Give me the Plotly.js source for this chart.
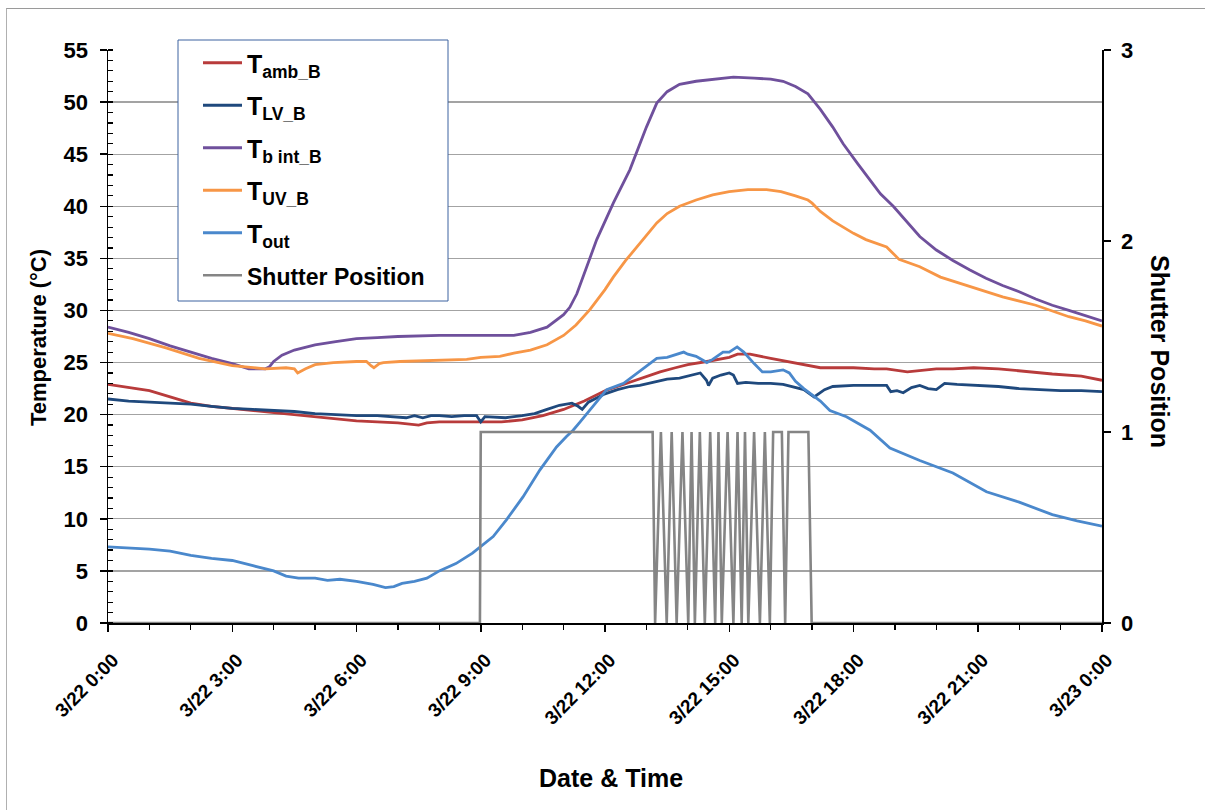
<!DOCTYPE html>
<html>
<head>
<meta charset="utf-8">
<script src="https://cdn.plot.ly/plotly-3.0.1.min.js"></script>
<style>
  html, body { margin: 0; padding: 0; background: #fff; }
  #chart { width: 1205px; height: 810px; position: relative; }
  #frame { position: absolute; left: 6px; top: 8px; width: 1199px; height: 802px;
           border-top: 1px solid #9a9a9a; border-left: 1px solid #b0b0b0; pointer-events: none; }
</style>
</head>
<body>
<div id="chart"></div>
<div id="frame"></div>
<script>
// ---- Data (time in hours after 3/22 0:00) ----
const ambHours = [0,0.5,1,1.5,2,2.5,3,3.5,4,4.5,5,5.5,6,6.5,7,7.5,7.7,8,8.5,9,9.5,10,10.5,11,11.5,12,12.5,12.84,13.33,13.7,14,14.46,15,15.2,15.5,16,16.5,16.8,17.2,17.67,18,18.5,18.8,19.3,19.6,20,20.4,20.9,21.5,22,22.5,22.8,23.5,24];
const ambVals  = [22.9,22.6,22.3,21.7,21.1,20.8,20.6,20.4,20.2,20.0,19.8,19.6,19.4,19.3,19.2,19.0,19.2,19.3,19.3,19.3,19.3,19.5,19.9,20.5,21.3,22.3,23.0,23.4,24.1,24.5,24.8,25.1,25.5,25.8,25.8,25.4,25.0,24.8,24.5,24.5,24.5,24.4,24.4,24.1,24.2,24.4,24.4,24.5,24.4,24.2,24.0,23.9,23.7,23.3];

const lvHours = [0,0.5,1,1.5,2,2.5,3,3.5,4,4.5,5,5.5,6,6.5,7,7.2,7.4,7.6,7.8,8,8.3,8.6,8.9,9.0,9.1,9.4,9.6,10,10.3,10.6,10.9,11.2,11.35,11.45,11.6,11.8,12,12.3,12.6,12.84,13.2,13.5,13.8,14.1,14.3,14.45,14.5,14.6,14.8,15.0,15.1,15.2,15.4,15.7,16,16.3,16.6,16.8,17.05,17.3,17.5,18,18.5,18.8,18.9,19.05,19.2,19.4,19.6,19.8,20.0,20.2,20.5,21,21.5,22,22.5,23,23.5,24];
const lvVals  = [21.5,21.3,21.2,21.1,21.0,20.8,20.6,20.5,20.4,20.3,20.1,20.0,19.9,19.9,19.8,19.7,19.9,19.7,19.9,19.9,19.8,19.9,19.9,19.3,19.8,19.7,19.7,19.9,20.1,20.5,20.9,21.1,20.8,20.5,21.2,21.6,22.0,22.4,22.7,22.8,23.1,23.4,23.5,23.8,24.0,23.3,22.8,23.5,23.8,24.0,23.8,23.0,23.1,23.0,23.0,22.9,22.6,22.4,21.7,22.4,22.7,22.8,22.8,22.8,22.2,22.3,22.1,22.6,22.8,22.5,22.4,23.0,22.9,22.8,22.7,22.5,22.4,22.3,22.3,22.2];

const bintHours = [0,0.5,1,1.5,2,2.5,3,3.4,3.8,3.9,4.0,4.2,4.5,5,5.5,6,6.5,7,8,9,9.8,10.2,10.6,11.0,11.15,11.32,11.55,11.8,12.2,12.6,13.0,13.25,13.5,13.8,14.2,14.6,15.1,15.6,16.0,16.3,16.6,16.9,17.2,17.5,17.75,18.1,18.4,18.65,18.96,19.3,19.6,20.0,20.4,20.8,21.2,21.6,22.0,22.4,22.8,23.2,23.6,24];
const bintVals  = [28.4,27.9,27.3,26.6,26.0,25.4,24.9,24.4,24.4,24.6,25.1,25.7,26.2,26.7,27.0,27.3,27.4,27.5,27.6,27.6,27.6,27.9,28.4,29.6,30.3,31.6,34.0,36.8,40.3,43.5,47.6,49.9,51.0,51.7,52.0,52.2,52.4,52.3,52.2,52.0,51.5,50.8,49.3,47.6,46.0,44.1,42.5,41.2,40.0,38.5,37.1,35.8,34.8,33.9,33.1,32.4,31.8,31.1,30.5,30.0,29.5,29.0];

const uvHours = [0,0.6,1.4,2.2,3.0,3.8,4.3,4.5,4.58,4.7,4.77,5.0,5.44,6.0,6.24,6.35,6.42,6.55,6.65,7.05,7.85,8.66,9.0,9.46,9.8,10.2,10.6,11.0,11.3,11.64,12.0,12.2,12.5,12.77,13.0,13.25,13.5,13.8,14.2,14.6,15.0,15.45,15.9,16.25,16.6,16.9,17.0,17.2,17.5,17.75,18.0,18.3,18.8,19.1,19.6,20.1,20.8,21.6,22.4,23.2,23.6,24];
const uvVals  = [27.8,27.3,26.4,25.4,24.7,24.4,24.5,24.4,24.0,24.3,24.4,24.8,25.0,25.1,25.1,24.7,24.5,24.9,25.0,25.1,25.2,25.3,25.5,25.6,25.9,26.2,26.7,27.6,28.6,30.1,32.0,33.2,34.8,36.1,37.3,38.4,39.3,40.0,40.6,41.1,41.4,41.6,41.6,41.4,41.0,40.6,40.3,39.5,38.6,38.0,37.4,36.8,36.1,34.9,34.2,33.2,32.3,31.3,30.5,29.4,29.0,28.5];

const outHours = [0,0.5,1,1.5,2,2.5,3,3.5,4,4.3,4.6,5,5.3,5.6,6,6.4,6.7,6.9,7.1,7.4,7.7,8.0,8.4,8.8,8.96,9.3,9.62,10.02,10.43,10.83,11.07,11.23,11.4,11.63,12.04,12.45,12.84,13.25,13.5,13.9,14.0,14.2,14.46,14.6,14.85,15.0,15.19,15.35,15.6,15.8,16.0,16.3,16.45,16.6,16.8,17.05,17.2,17.43,17.83,18.4,18.88,19.6,20.4,21.21,22.0,22.8,23.4,24];
const outVals  = [7.3,7.2,7.1,6.9,6.5,6.2,6.0,5.5,5.0,4.5,4.3,4.3,4.1,4.2,4.0,3.7,3.4,3.5,3.8,4.0,4.3,5.0,5.7,6.7,7.2,8.3,9.9,12.1,14.7,16.9,17.9,18.5,19.3,20.4,22.4,23.0,24.2,25.4,25.5,26.0,25.8,25.6,25.0,25.3,26.0,26.0,26.5,26.0,24.9,24.1,24.1,24.3,24.0,23.2,22.5,21.7,21.3,20.4,19.8,18.5,16.8,15.6,14.4,12.6,11.6,10.4,9.8,9.3];

const shutterHours = [0,8.98,9.0,13.15,13.21,13.35,13.49,13.61,13.73,13.87,14.01,14.09,14.17,14.29,14.41,14.54,14.66,14.74,14.82,14.96,15.10,15.20,15.30,15.38,15.46,15.60,15.74,15.86,15.98,16.06,16.27,16.35,16.43,16.91,16.99,24];
const shutterVals  = [0,0,1,1,0,1,0,1,0,1,0,1,0,1,0,1,0,1,0,1,0,1,0,1,0,1,0,1,0,1,1,0,1,1,0,0];

const seriesNames = ['T<sub>amb_B</sub>','T<sub>LV_B</sub>','T<sub>b int_B</sub>','T<sub>UV_B</sub>','T<sub>out</sub>','<span style="font-size:23px">Shutter Position</span>'];
const seriesColors = ['#b83b3b','#1f497d','#6f509c','#f79646','#4a88cc','#858585'];

// ---- helpers ----
function toDate(h) {
  const secs = Math.round(h * 3600);
  const day = 22 + Math.floor(secs / 86400);
  const s = secs % 86400;
  const p = n => String(n).padStart(2, '0');
  return '2013-03-' + p(day) + ' ' + p(Math.floor(s / 3600)) + ':' + p(Math.floor((s % 3600) / 60)) + ':' + p(s % 60);
}

const tempSets = [[ambHours, ambVals],[lvHours, lvVals],[bintHours, bintVals],[uvHours, uvVals],[outHours, outVals]];
const traces = tempSets.map((d, i) => ({
  type: 'scatter', mode: 'lines',
  x: d[0].map(toDate), y: d[1],
  name: seriesNames[i], legendgroup: 'g' + i,
  line: { color: seriesColors[i], width: 2.8 },
  yaxis: 'y'
}));
traces.push({
  type: 'scatter', mode: 'lines',
  x: shutterHours.map(toDate), y: shutterVals,
  name: seriesNames[5], legendgroup: 'g5',
  line: { color: seriesColors[5], width: 2.6 },
  yaxis: 'y2'
});

const FONT = 'Liberation Sans, Arial, Helvetica, sans-serif';
const W = 994, H = 573, L = 108, T = 50;
const px = x => (x - L) / W;
const py = y => (T + H - y) / H;

const layout = {
  width: 1205, height: 810,
  margin: { l: 108, r: 103, t: 50, b: 187 },
  paper_bgcolor: '#ffffff', plot_bgcolor: '#ffffff',
  font: { family: FONT, color: '#000', weight: 'bold' },
  showlegend: true,
  legend: {
    x: px(198), y: py(40), xanchor: 'left', yanchor: 'top',
    bgcolor: 'rgba(0,0,0,0)', borderwidth: 0,
    font: { family: FONT, size: 25, color: '#000', weight: 'bold' },
    itemwidth: 39,
    traceorder: 'grouped', tracegroupgap: 7
  },
  xaxis: {
    type: 'date',
    range: [toDate(0), toDate(24)],
    tick0: toDate(0), dtick: 3 * 3600000,
    tickformat: '%-m/%-d %-H:%M',
    tickangle: -45,
    tickfont: { family: FONT, size: 19, color: '#000', weight: 'bold' },
    ticks: 'outside', ticklen: 7, tickwidth: 1.5, tickcolor: '#000',
    ticklabelstandoff: 10, ticklabelshift: 5,
    minor: { dtick: 3600000, tick0: toDate(0), ticks: 'outside', ticklen: 5, tickwidth: 1.2, tickcolor: '#000', showgrid: false },
    showline: true, linecolor: '#000', linewidth: 1.5,
    showgrid: false, zeroline: false, fixedrange: true
  },
  yaxis: {
    range: [0, 55], tick0: 0, dtick: 5,
    tickfont: { family: FONT, size: 22, color: '#000', weight: 'bold' },
    ticks: 'outside', ticklen: 7, tickwidth: 1.5, tickcolor: '#000',
    ticklabelstandoff: 7,
    minor: { dtick: 1, tick0: 0, ticks: 'inside', ticklen: 5, tickwidth: 1.2, tickcolor: '#000', showgrid: false },
    showline: true, linecolor: '#000', linewidth: 1.5,
    showgrid: true, gridcolor: '#a3a3a3', gridwidth: 1.3,
    zeroline: false, fixedrange: true
  },
  yaxis2: {
    overlaying: 'y', side: 'right',
    range: [0, 3], tick0: 0, dtick: 1,
    tickfont: { family: FONT, size: 22, color: '#000', weight: 'bold' },
    ticks: 'outside', ticklen: 7, tickwidth: 1.5, tickcolor: '#000',
    ticklabelstandoff: 6,
    showline: true, linecolor: '#000', linewidth: 1.5,
    showgrid: false, zeroline: false, fixedrange: true
  },
  shapes: [{
    type: 'rect', xref: 'paper', yref: 'paper', layer: 'above',
    x0: px(178), x1: px(448), y0: py(301), y1: py(40),
    fillcolor: '#ffffff', line: { color: '#3d63a0', width: 1 }
  }],
  annotations: [
    { text: 'Temperature (°C)', xref: 'paper', yref: 'paper', x: px(38), y: py(338), textangle: -90,
      showarrow: false, xanchor: 'center', yanchor: 'middle',
      font: { family: FONT, size: 22, color: '#000', weight: 'bold' } },
    { text: 'Shutter Position', xref: 'paper', yref: 'paper', x: px(1160), y: py(351), textangle: 90,
      showarrow: false, xanchor: 'center', yanchor: 'middle',
      font: { family: FONT, size: 25, color: '#000', weight: 'bold' } },
    { text: 'Date &amp; Time', xref: 'paper', yref: 'paper', x: px(611), y: py(778),
      showarrow: false, xanchor: 'center', yanchor: 'middle',
      font: { family: FONT, size: 25, color: '#000', weight: 'bold' } }
  ]
};

Plotly.newPlot('chart', traces, layout, { displayModeBar: false, staticPlot: true });
</script>
</body>
</html>
